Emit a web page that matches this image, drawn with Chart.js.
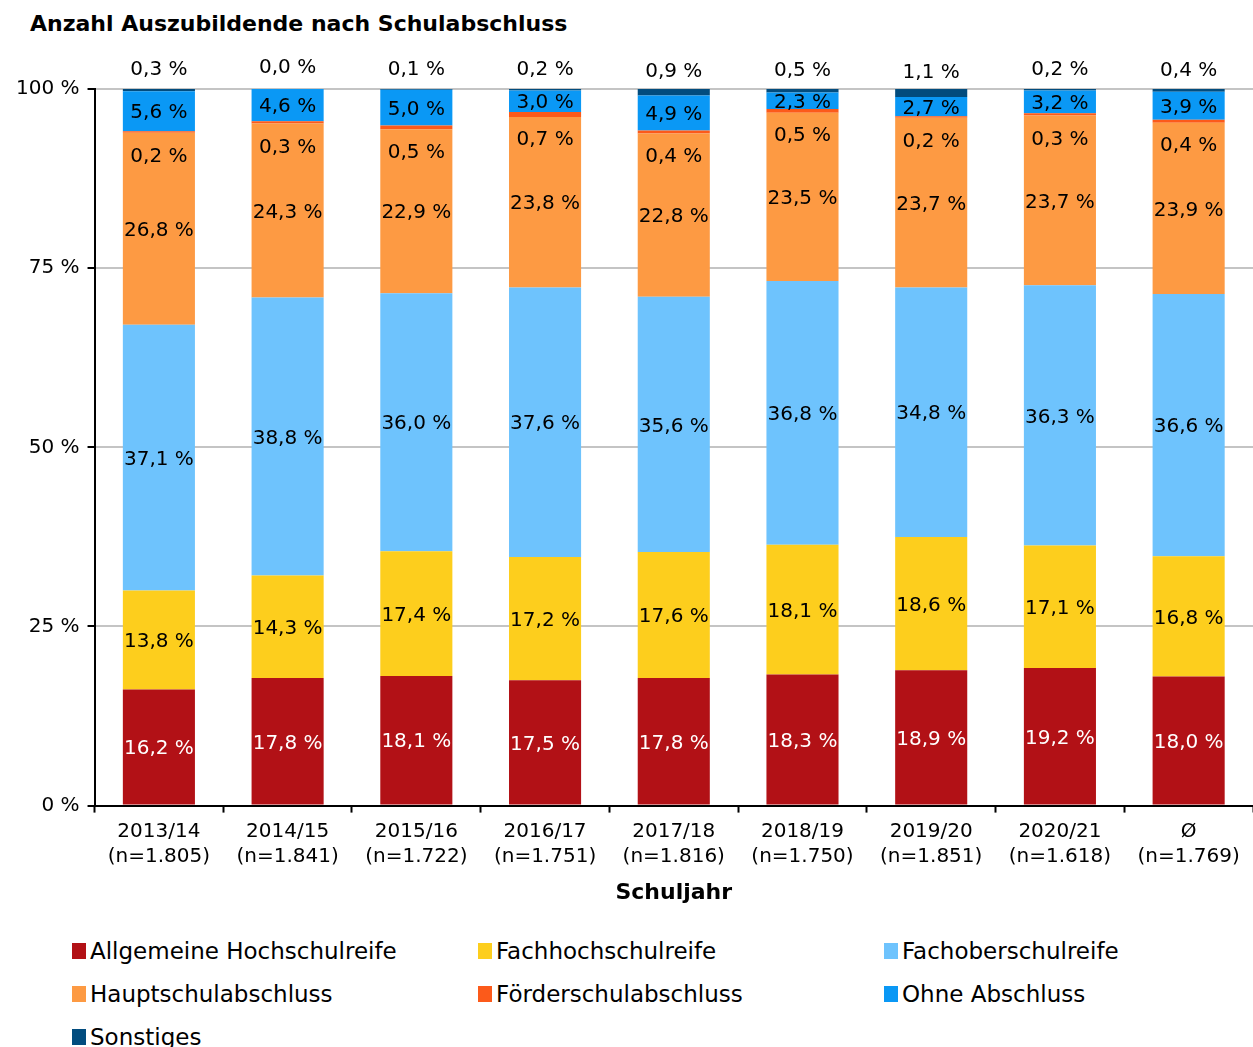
<!DOCTYPE html>
<html>
<head>
<meta charset="utf-8">
<script src="https://cdn.jsdelivr.net/npm/chart.js@4/dist/chart.umd.min.js"></script>
<style>
  html, body { margin: 0; padding: 0; background: #fff; }
  body { width: 1253px; height: 1047px; position: relative; overflow: hidden; font-family: "DejaVu Sans", sans-serif; }
  #title { position: absolute; left: 30px; top: 11px; font-size: 22px; font-weight: bold; color: #000; white-space: nowrap; }
  #wrap { position: absolute; left: 0; top: 0; width: 1253px; height: 915px; }
  #legend { position: absolute; left: 72px; top: 936px; width: 1181px; display: grid; grid-template-columns: 406px 406px 369px; row-gap: 13px; }
  .item { display: flex; align-items: center; height: 30px; font-size: 23px; color: #000; white-space: nowrap; }
  .box { width: 14px; height: 16px; margin-right: 4px; flex: none; }
</style>
</head>
<body>
<div id="title">Anzahl Auszubildende nach Schulabschluss</div>
<div id="wrap"><canvas id="c" width="1253" height="915"></canvas></div>
<div id="legend"></div>
<script>
const categories = ['2013/14', '2014/15', '2015/16', '2016/17', '2017/18', '2018/19', '2019/20', '2020/21', 'Ø'];
const sampleSizes = ['n=1.805', 'n=1.841', 'n=1.722', 'n=1.751', 'n=1.816', 'n=1.750', 'n=1.851', 'n=1.618', 'n=1.769'];

const allgemeineHochschulreife = [16.2, 17.8, 18.1, 17.5, 17.8, 18.3, 18.9, 19.2, 18.0];
const fachhochschulreife      = [13.8, 14.3, 17.4, 17.2, 17.6, 18.1, 18.6, 17.1, 16.8];
const fachoberschulreife      = [37.1, 38.8, 36.0, 37.6, 35.6, 36.8, 34.8, 36.3, 36.6];
const hauptschulabschluss     = [26.8, 24.3, 22.9, 23.8, 22.8, 23.5, 23.7, 23.7, 23.9];
const foerderschulabschluss   = [0.2, 0.3, 0.5, 0.7, 0.4, 0.5, 0.2, 0.3, 0.4];
const ohneAbschluss           = [5.6, 4.6, 5.0, 3.0, 4.9, 2.3, 2.7, 3.2, 3.9];
const sonstiges               = [0.3, 0.0, 0.1, 0.2, 0.9, 0.5, 1.1, 0.2, 0.4];

const seriesNames = ['Allgemeine Hochschulreife', 'Fachhochschulreife', 'Fachoberschulreife', 'Hauptschulabschluss', 'Förderschulabschluss', 'Ohne Abschluss', 'Sonstiges'];
const seriesValues = [allgemeineHochschulreife, fachhochschulreife, fachoberschulreife, hauptschulabschluss, foerderschulabschluss, ohneAbschluss, sonstiges];
const seriesColors = ['#B21116', '#FDCE1D', '#6EC3FD', '#FD9A43', '#FC5A1A', '#0A98F5', '#024C7E'];
const yTicks = [0, 25, 50, 75, 100];

const FONT = "'DejaVu Sans', sans-serif";

const labels = categories.map((c, i) => [c, '(' + sampleSizes[i] + ')']);
const datasets = seriesNames.map((name, i) => ({
  label: name,
  data: seriesValues[i],
  backgroundColor: seriesColors[i],
  borderWidth: 0,
  barPercentage: 0.56,
  categoryPercentage: 1.0
}));

const fmt = v => v.toFixed(1).replace('.', ',') + ' %';

const valueLabels = {
  id: 'valueLabels',
  afterDatasetsDraw(chart) {
    const ctx = chart.ctx;
    ctx.save();
    ctx.font = '20px ' + FONT;
    ctx.textAlign = 'center';
    ctx.textBaseline = 'middle';
    chart.data.datasets.forEach((ds, di) => {
      const meta = chart.getDatasetMeta(di);
      meta.data.forEach((el, i) => {
        const v = ds.data[i];
        const mid = (el.y + el.base) / 2;
        let y = mid + 2;
        if (di === 4) y = mid + 25;
        if (di === 6) y = mid - 20;
        ctx.fillStyle = di === 0 ? '#ffffff' : '#000000';
        ctx.fillText(fmt(v), el.x, y);
      });
    });
    ctx.restore();
  }
};

new Chart(document.getElementById('c'), {
  type: 'bar',
  data: { labels, datasets },
  options: {
    responsive: false,
    animation: false,
    layout: { padding: { top: 89, left: 8, right: 0, bottom: 9 } },
    plugins: {
      legend: { display: false },
      title: { display: false },
      tooltip: { enabled: false }
    },
    scales: {
      x: {
        stacked: true,
        offset: true,
        grid: { display: true, drawOnChartArea: false, drawTicks: true, tickLength: 7, tickColor: '#000', tickWidth: 2, offset: true },
        border: { display: true, color: '#000', width: 2 },
        ticks: { color: '#000', font: { family: FONT, size: 20, lineHeight: 1.25 }, padding: 7, maxRotation: 0, autoSkip: false },
        title: { display: true, text: 'Schuljahr', color: '#000', font: { family: FONT, size: 22, weight: 'bold', lineHeight: 1.2 }, padding: { top: 3, bottom: 0 } }
      },
      y: {
        stacked: true,
        min: 0,
        max: 100,
        afterBuildTicks: axis => { axis.ticks = yTicks.map(v => ({ value: v })); },
        grid: { color: '#C4C4C4', lineWidth: 2, tickColor: '#000', tickLength: 7, tickWidth: 2 },
        border: { display: true, color: '#000', width: 2 },
        ticks: { color: '#000', font: { family: FONT, size: 20 }, padding: 8, callback: v => v + ' %' }
      }
    }
  },
  plugins: [valueLabels]
});

const legend = document.getElementById('legend');
seriesNames.forEach((name, i) => {
  const item = document.createElement('div');
  item.className = 'item';
  const box = document.createElement('span');
  box.className = 'box';
  box.style.background = seriesColors[i];
  const txt = document.createElement('span');
  txt.textContent = name;
  item.appendChild(box);
  item.appendChild(txt);
  legend.appendChild(item);
});
</script>
</body>
</html>
